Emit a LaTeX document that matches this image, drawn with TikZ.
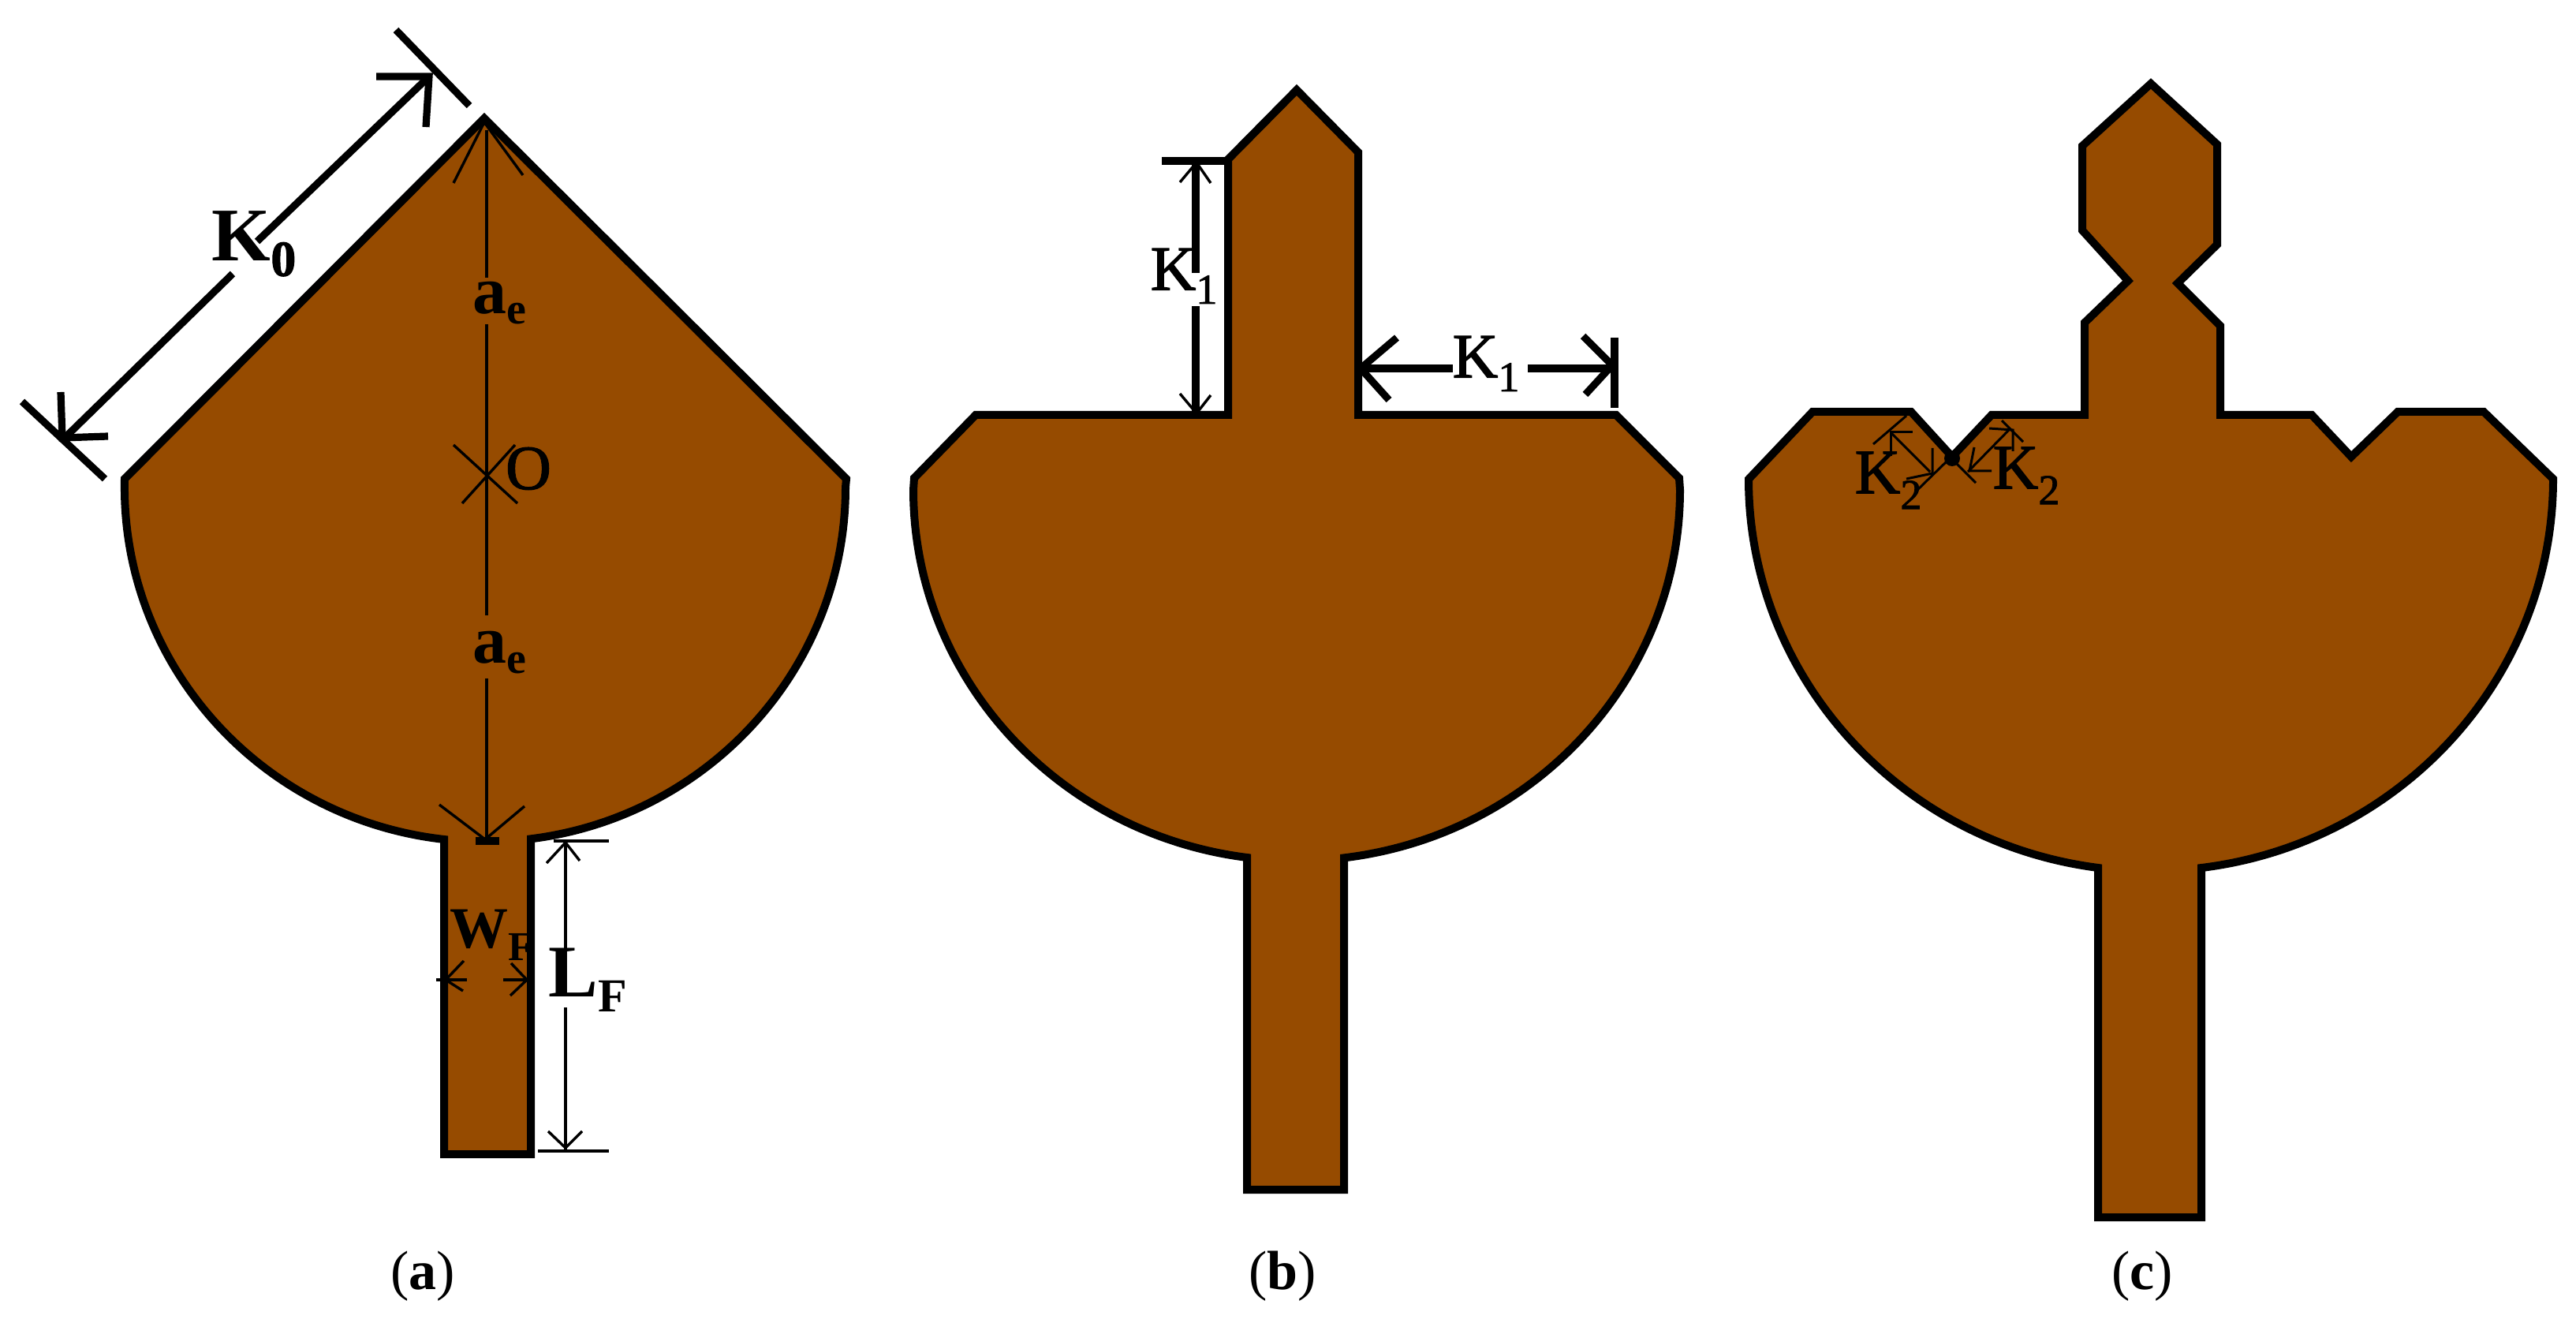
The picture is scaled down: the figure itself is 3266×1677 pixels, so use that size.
\documentclass[tikz,border=0pt]{standalone}
\usepackage{fontspec}
\setmainfont{Liberation Serif}
\newfontfamily\semib[FakeBold=1.6]{Liberation Serif}
\definecolor{patch}{RGB}{150,75,0}
\tikzset{
  x=0.25pt,y=-0.25pt,
  patchshape/.style={fill=patch,draw=black,line width=2.5pt,line join=miter,miter limit=6},
  thickdim/.style={draw=black,line width=2.3pt},
  thindim/.style={draw=black,line width=0.85pt},
  fine/.style={draw=black,line width=0.75pt},
  lbl/.style={inner sep=0pt,outer sep=0pt,text=black},
}
\newcommand{\fz}[1]{\fontsize{#1}{#1}\selectfont}
\begin{document}
\begin{tikzpicture}
\useasboundingbox (0,0) rectangle (3266,1677);
% panel a
\draw[patchshape] (614,150) -- (1073,607) -- (1072,618)
  arc[start angle=0,end angle=82.7,x radius=457,y radius=449]
  -- (673,1463) -- (563,1463) -- (563,1064)
  arc[start angle=96.53,end angle=180,x radius=457,y radius=449] -- (158,607) -- cycle;
\node[lbl,font=\bfseries\fz{24}] (k0) at (322,309) {K\raisebox{-0.2em}{\fz{16}\semib 0}};
\node[lbl,font=\bfseries\fz{21.5}] (aetop) at (633,384) {a\raisebox{-0.15em}{\fz{14}e}};
\node[lbl,font=\bfseries\fz{21.5}] (aebot) at (633,827) {a\raisebox{-0.15em}{\fz{14}e}};
\node[lbl,font=\semib\fz{20}] (o) at (670,594) {O};
\node[lbl,font=\bfseries\fz{23.5}] (lf) at (745,1242) {L\raisebox{-0.2em}{\fz{15}F}};
\node[lbl,font=\bfseries\fz{18.5}] (wf) at (623,1185) {W\raisebox{-0.22em}{\fz{13}F}};
\draw[thickdim] (502,38) -- (595,134);
\draw[thickdim] (28,509) -- (133,607);
\draw[thickdim] (544,97) -- (326,306);
\draw[thickdim] (295,347) -- (81,556);
\draw[thickdim] (477,97) -- (544,97) -- (540,161);
\draw[thickdim] (77,497) -- (79,555) -- (137,553);
\draw[thindim] (617,165) -- (617,352) (617,411) -- (617,780) (617,860) -- (617,1066);
\draw[thindim] (575,232) -- (614,155) -- (663,222);
\draw[thindim] (557,1020) -- (615,1064) -- (665,1022);
\fill[black] (603,1061) rectangle (633,1071);
\draw[thindim] (575,564) -- (656,638) (653,564) -- (586,638);
\draw[thindim] (702,1066) -- (772,1066) (682,1459) -- (772,1459);
\draw[thindim] (717,1066) -- (717,1205) (717,1277) -- (717,1459);
\draw[thindim] (693,1094) -- (717,1068) -- (735,1091);
\draw[thindim] (695,1434) -- (717,1455) -- (738,1434);
\draw[thindim] (553,1242) -- (592,1242) (638,1242) -- (668,1242);
\draw[thindim] (588,1218) -- (565,1242) -- (587,1256);
\draw[thindim] (648,1221) -- (668,1242) -- (647,1262);
% panel b
\draw[patchshape] (1644,114) -- (1722,193) -- (1722,526) -- (2049,526) -- (2129,606) -- (2130,621)
  arc[start angle=0,end angle=82.9,x radius=486,y radius=470]
  -- (1704,1508) -- (1581,1508) -- (1581,1087)
  arc[start angle=97.45,end angle=180,x radius=486,y radius=470]
  -- (1159,606) -- (1237,526) -- (1557,526) -- (1557,202) -- cycle;
\node[lbl,font=\semib\fz{20}] (k1v) at (1501,350) {K\raisebox{-0.22em}{\fz{13.5}1}};
\node[lbl,font=\semib\fz{20}] (k1h) at (1884,461) {K\raisebox{-0.22em}{\fz{13.5}1}};
\draw[thickdim] (1473,204) -- (1559,204);
\draw[thickdim] (1516,204) -- (1516,346) (1516,388) -- (1516,526);
\draw[thindim] (1496,231) -- (1517,206) -- (1535,232);
\draw[thindim] (1496,499) -- (1517,524) -- (1535,501);
\draw[thickdim] (1722,467) -- (1842,467) (1937,467) -- (2047,467);
\draw[thickdim] (2047,428) -- (2047,517);
\draw[thickdim] (1771,428) -- (1725,467) -- (1761,507);
\draw[thickdim] (2007,426) -- (2044,463) -- (2010,500);
% panel c
\draw[patchshape] (2727,106) -- (2811,183) -- (2811,310) -- (2761,359) -- (2815,413) -- (2815,526)
  -- (2931,526) -- (2981,579) -- (3040,522) -- (3149,522) -- (3237,607)
  arc[start angle=0,end angle=82.79,x radius=510,y radius=497]
  -- (2791,1543) -- (2660,1543) -- (2660,1100)
  arc[start angle=97.55,end angle=180,x radius=510,y radius=497]
  -- (2298,522) -- (2423,522) -- (2475,579) -- (2525,526) -- (2643,526) -- (2643,409)
  -- (2698,356) -- (2640,292) -- (2640,185) -- cycle;
\node[lbl,font=\semib\fz{20}] (k2l) at (2394,609) {K\raisebox{-0.25em}{\fz{13.5}2}};
\node[lbl,font=\semib\fz{20}] (k2r) at (2569,603) {K\raisebox{-0.25em}{\fz{13.5}2}};
\draw[fine] (2397,548) -- (2447,598);
\draw[fine] (2495,598) -- (2547,545);
\draw[fine] (2375,563) -- (2417,527);
\draw[fine] (2430,622) -- (2470,583);
\draw[fine] (2480,587) -- (2505,612);
\draw[fine] (2538,533) -- (2565,560);
\draw[fine] (2397,578) -- (2397,548) -- (2425,548);
\draw[fine] (2450,568) -- (2450,600) -- (2417,607);
\draw[fine] (2503,567) -- (2497,597) -- (2525,597);
\draw[fine] (2522,543) -- (2552,545) -- (2552,572);
\fill[black] (2475,581) circle[radius=10];
% captions
\node[lbl,font=\fz{17.5}] (ca) at (536,1618) {(\textbf{a})};
\node[lbl,font=\fz{17.5}] (cb) at (1626,1618) {(\textbf{b})};
\node[lbl,font=\fz{17.5}] (cc) at (2716,1618) {(\textbf{c})};
\end{tikzpicture}
\end{document}
